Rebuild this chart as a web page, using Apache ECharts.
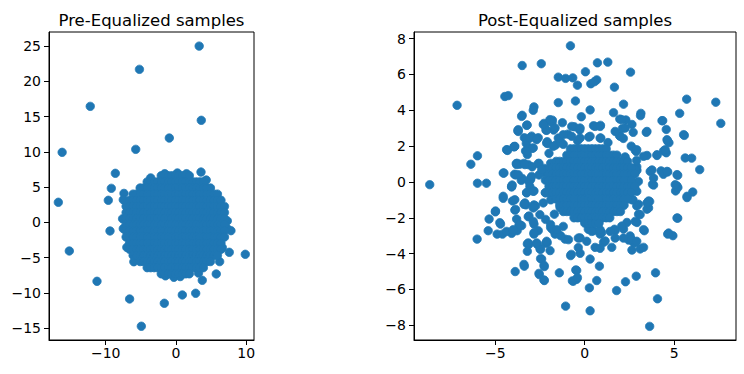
<!DOCTYPE html>
<html>
<head>
<meta charset="utf-8">
<script src="https://cdn.jsdelivr.net/npm/echarts@6/dist/echarts.min.js"></script>
<style>html,body{margin:0;padding:0;background:#fff}#c{width:744px;height:374px}</style>
</head>
<body>
<div id="c"></div>
<script>
// ---- Titles & ticks ----
const leftTitle = 'Pre-Equalized samples';
const rightTitle = 'Post-Equalized samples';
const leftXTicks = [-10, 0, 10];
const leftYTicks = [-15, -10, -5, 0, 5, 10, 15, 20, 25];
const rightXTicks = [-5, 0, 5];
const rightYTicks = [-8, -6, -4, -2, 0, 2, 4, 6, 8];

// ---- Pre-equalized: scattered outliers ----
const leftOuter = [[3.3,25.0],[-5.2,21.7],[-12.2,16.45],[3.6,14.47],[-0.95,11.96],[-16.2,9.93],[-5.73,10.35],
[-8.63,6.95],[-9.2,4.82],[-9.63,3.12],[-16.74,2.84],[-9.39,-1.23],[-15.18,-4.07],[-7.0,-3.55],[-11.24,-8.37],
[-6.6,-10.88],[-1.66,-11.49],[0.9,-10.31],[2.8,-10.07],[-4.93,-14.75],[3.74,-8.23],[5.73,-7.33],[6.21,-5.58],
[7.58,-4.26],[9.86,-4.54],[7.82,-1.19],[3.56,7.13],
[0.2,7.0],[-1.6,6.9],[1.5,6.9],[-0.3,-7.8],[0.6,-7.7],[-1.5,-7.6],[7.3,0.2],[7.2,-0.8],[-7.6,0.5],[-7.5,-0.9],[-7.4,4.1],[-7.5,3.2],[4.3,6.0],[-3.6,6.3],[6.6,-3.6],[-6.0,-5.6],[3.2,-7.2]];

// ---- Pre-equalized: dense central cloud (rows: y, then x positions) ----
const leftCloudRows = [
[6.61, [-2.1,-1.6,-1.1,-0.6,-0.1,0.4,0.9,1.4,1.9]],
[5.74, [-4.1,-3.6,-3.1,-2.6,-2.1,-1.6,-1.1,-0.6,-0.1,0.4,0.9,1.4,1.9,2.4,2.9,3.4,3.9]],
[4.87, [-5.1,-4.6,-4.1,-3.6,-3.1,-2.6,-2.1,-1.6,-1.1,-0.6,-0.1,0.4,0.9,1.4,1.9,2.4,2.9,3.4,3.9,4.4,4.9]],
[4.0, [-6.1,-5.6,-5.1,-4.6,-4.1,-3.6,-3.1,-2.6,-2.1,-1.6,-1.1,-0.6,-0.1,0.4,0.9,1.4,1.9,2.4,2.9,3.4,3.9,4.4,4.9,5.4,5.9]],
[3.13, [-6.6,-6.1,-5.6,-5.1,-4.6,-4.1,-3.6,-3.1,-2.6,-2.1,-1.6,-1.1,-0.6,-0.1,0.4,0.9,1.4,1.9,2.4,2.9,3.4,3.9,4.4,4.9,5.4,5.9,6.4]],
[2.26, [-7.1,-6.6,-6.1,-5.6,-5.1,-4.6,-4.1,-3.6,-3.1,-2.6,-2.1,-1.6,-1.1,-0.6,-0.1,0.4,0.9,1.4,1.9,2.4,2.9,3.4,3.9,4.4,4.9,5.4,5.9,6.4,6.9]],
[1.39, [-7.1,-6.6,-6.1,-5.6,-5.1,-4.6,-4.1,-3.6,-3.1,-2.6,-2.1,-1.6,-1.1,-0.6,-0.1,0.4,0.9,1.4,1.9,2.4,2.9,3.4,3.9,4.4,4.9,5.4,5.9,6.4,6.9]],
[0.52, [-7.1,-6.6,-6.1,-5.6,-5.1,-4.6,-4.1,-3.6,-3.1,-2.6,-2.1,-1.6,-1.1,-0.6,-0.1,0.4,0.9,1.4,1.9,2.4,2.9,3.4,3.9,4.4,4.9,5.4,5.9,6.4,6.9]],
[-0.35, [-7.1,-6.6,-6.1,-5.6,-5.1,-4.6,-4.1,-3.6,-3.1,-2.6,-2.1,-1.6,-1.1,-0.6,-0.1,0.4,0.9,1.4,1.9,2.4,2.9,3.4,3.9,4.4,4.9,5.4,5.9,6.4,6.9]],
[-1.22, [-7.1,-6.6,-6.1,-5.6,-5.1,-4.6,-4.1,-3.6,-3.1,-2.6,-2.1,-1.6,-1.1,-0.6,-0.1,0.4,0.9,1.4,1.9,2.4,2.9,3.4,3.9,4.4,4.9,5.4,5.9,6.4,6.9]],
[-2.09, [-7.1,-6.6,-6.1,-5.6,-5.1,-4.6,-4.1,-3.6,-3.1,-2.6,-2.1,-1.6,-1.1,-0.6,-0.1,0.4,0.9,1.4,1.9,2.4,2.9,3.4,3.9,4.4,4.9,5.4,5.9,6.4,6.9]],
[-2.96, [-6.6,-6.1,-5.6,-5.1,-4.6,-4.1,-3.6,-3.1,-2.6,-2.1,-1.6,-1.1,-0.6,-0.1,0.4,0.9,1.4,1.9,2.4,2.9,3.4,3.9,4.4,4.9,5.4,5.9,6.4]],
[-3.83, [-6.6,-6.1,-5.6,-5.1,-4.6,-4.1,-3.6,-3.1,-2.6,-2.1,-1.6,-1.1,-0.6,-0.1,0.4,0.9,1.4,1.9,2.4,2.9,3.4,3.9,4.4,4.9,5.4,5.9,6.4]],
[-4.7, [-6.1,-5.6,-5.1,-4.6,-4.1,-3.6,-3.1,-2.6,-2.1,-1.6,-1.1,-0.6,-0.1,0.4,0.9,1.4,1.9,2.4,2.9,3.4,3.9,4.4,4.9,5.4,5.9]],
[-5.57, [-5.1,-4.6,-4.1,-3.6,-3.1,-2.6,-2.1,-1.6,-1.1,-0.6,-0.1,0.4,0.9,1.4,1.9,2.4,2.9,3.4,3.9,4.4,4.9]],
[-6.44, [-4.1,-3.6,-3.1,-2.6,-2.1,-1.6,-1.1,-0.6,-0.1,0.4,0.9,1.4,1.9,2.4,2.9,3.4,3.9]],
[-7.31, [-2.1,-1.6,-1.1,-0.6,-0.1,0.4,0.9,1.4,1.9]]
];

// ---- Post-equalized: scattered points ----
const rightOuter = [
[-0.8,7.6],[-3.5,6.5],[-2.43,6.6],[0.71,6.65],[1.29,6.69],[0.04,6.15],[2.56,6.13],
[-1.48,5.85],[-1.07,5.78],[-0.67,5.81],[-0.41,5.4],[0.34,5.48],[0.67,5.7],[0.55,5.6],[1.66,5.29],
[-7.14,4.28],[-4.47,4.77],[-4.28,4.82],[-0.52,4.52],[-1.48,4.43],[-2.84,4.19],[-2.88,4.0],[0.3,4.02],[-0.19,3.64],[2.17,4.34],
[5.7,4.62],[7.33,4.45],[7.61,3.27],[5.31,3.83],[4.36,3.42],[4.56,2.93],[5.57,2.6],[3.14,3.83],[3.12,3.7],[3.44,2.77],[1.61,3.87],
[-3.5,3.72],[-3.25,3.16],[-3.72,2.82],[-2.24,3.2],[-1.83,3.31],[-1.25,3.31],[-2.17,2.9],[-1.74,2.9],[-0.58,3.08],[0.49,3.14],[0.88,3.16],[-0.28,2.9],[-0.95,2.67],[0.22,2.5],[0.9,2.45],
[1.96,3.51],[2.3,3.46],[2.64,3.21],[2.71,2.77],[1.94,2.6],[2.11,2.99],[4.64,2.28],[4.71,2.19],
[-3.38,2.47],[-2.97,2.56],[-2.6,2.47],[-3.27,2.15],[-2.07,2.15],[-4.32,1.76],[-3.94,1.96],[-3.16,1.87],[-3.21,1.53],
[-6.0,1.46],[-6.37,0.99],[-4.52,0.5],[-8.67,-0.15],[-6.0,-0.07],[-5.5,-0.07],
[-3.83,1.03],[-3.63,0.99],[-3.16,0.97],[-2.6,1.03],[-1.85,0.99],[-3.93,0.43],[-3.55,0.09],[-3.03,0.13],[-2.28,0.54],[-1.57,0.69],[-4.09,-0.28],
[2.88,1.7],[3.48,1.48],[4.04,1.48],[4.56,1.63],[4.41,1.73],[5.98,1.33],[6.43,0.69],[4.27,0.62],[4.4,0.43],[4.64,0.56],[5.2,0.37],[5.16,-0.22],[2.92,0.65],[2.45,0.79],[2.26,1.4],
[2.16,2.43],[2.82,1.78],[3.76,0.67],[2.91,0.85],[1.6,1.2],
[-4.56,-0.91],[-4.04,-1.06],[-3.25,-0.59],[-2.84,-0.5],[-2.84,-1.28],[-3.29,-1.28],[-3.91,-1.57],[-5.0,-1.67],[-5.35,-2.07],[-4.71,-2.35],[-5.4,-2.72],[-6.02,-3.19],[-4.9,-2.91],[-4.6,-2.91],[-4.09,-2.87],[-3.78,-2.72],[-3.53,-2.44],[-3.81,-2.07],[-3.16,-1.94],[-2.84,-2.35],[-2.84,-2.91],[-2.6,-2.72],
[-3.21,-3.46],[-3.21,-3.87],[-2.5,-3.74],[-2.19,-3.43],[-1.94,-3.83],[-2.41,-4.3],[-2.26,-4.72],[-2.54,-5.17],[-2.26,-5.5],[-3.38,-4.7],[-3.89,-5.0],[-1.42,-5.07],
[-1.91,-2.54],[-1.66,-2.91],[-1.1,-3.19],[-0.79,-4.11],[-0.26,-3.98],[0.3,-4.3],[-0.45,-4.94],[-0.64,-5.54],[-0.45,-5.43],[0.26,-5.91],[0.67,-5.5],[0.82,-4.7],
[-1.07,-6.93],[0.3,-7.19],[1.78,-6.06],[2.28,-5.57],[2.88,-5.26],[3.96,-5.07],[4.07,-6.52],[3.63,-8.06],
[0.58,-3.65],[1.05,-3.37],[1.51,-3.65],[1.7,-2.72],[2.17,-2.63],[2.45,-3.24],[2.73,-3.37],[2.64,-3.8],[3.1,-3.74],[3.29,-3.65],[3.33,-2.72],[2.92,-2.26],[2.36,-2.26],[3.01,-1.8],[3.48,-1.52],[3.63,-1.09],[3.01,-1.24],
[4.64,-2.91],[4.93,-3.0],[5.2,-2.02],[5.08,-0.5],[5.21,-0.31],[5.72,-0.87],[6.04,-0.56],[3.85,-0.17],[0.49,-2.72],[0.86,-2.91],[-1.38,-1.43],
[3.79,-0.13],[3.57,-1.06],[2.91,-1.34],[2.07,-2.46],[1.66,-2.64],[2.54,-3.01],[2.82,-3.39],[0.95,-2.83],[1.14,-3.29],[0.86,-3.7],[0.2,-2.64],[-0.26,-3.12],[-0.36,-3.66],
[-2.75,-1.34],[-3.4,-1.25],[-3.87,-1.53],[-4.99,-1.62],[-4.75,-2.27],[-3.68,-2.42],[-3.12,-1.9],[-2.84,-2.83],[-2.19,-2.09],[-1.91,-2.37],[-1.82,-2.64],[-1.54,-2.83],[-1.35,-3.0],
[-3.12,-3.48],[-2.66,-3.48],[-2.47,-3.76],[-2.1,-3.39],[-2.47,-4.28],[-2.28,-4.65],[-3.4,-4.6],[-2.56,-5.1],[-2.28,-5.47],[-0.69,-5.52],[-0.41,-5.34],[-0.5,-4.91],[-0.75,-4.04],
[-3.22,3.18],[-3.74,2.86],[-2.28,3.27],[-1.81,3.45],[-2.13,2.88],[-2.1,2.25],[-1.63,2.06],[-1.35,2.25],[-3.31,1.73],[-2.94,1.88],[-4.34,1.79],[-3.96,1.97],
[-3.78,1.04],[-3.4,1.04],[-2.94,0.85],[-2.56,1.04],[-2.28,0.76],[-1.91,1.04],[-1.54,0.76],[-3.87,0.39],[-3.5,0.2],[-3.03,0.2],[-2.56,0.39],[-4.06,-0.17],[-3.12,0.01],
[-2.2,-0.6],[-1.9,-1.0],[-1.9,0.3],[-2.0,1.6],[-1.2,2.1],[-0.4,2.3],[1.3,2.2],[2.6,2.0],[2.9,1.2],[2.8,-0.4],[2.7,-1.0],[-1.7,-1.8],
[-3.53,3.66],[-1.95,3.48],[-2.32,3.2],[-1.66,3.01],[-0.73,3.1],[-0.26,3.01],[0.58,3.1],[0.86,3.1],[2.07,3.48],[2.26,3.01],[1.98,2.55],[1.7,2.82],[3.48,2.82],[4.32,3.42],[5.53,2.64],[4.6,2.36],
[-4.37,1.8],[-3.91,1.99],[-3.72,2.92],[-3.07,2.45],[-2.69,2.36],[-2.88,1.9],[-3.25,1.71],[-2.13,2.17],[-1.76,1.99],[-1.48,2.45],[-1.2,2.64],[-0.73,2.55],[-0.26,2.45],[0.3,2.55],[0.86,2.45],
[-4.56,0.5],[-3.81,0.97],[-3.72,0.41],[-3.35,0.97],[-2.97,0.31],[-3.07,-0.25],[-3.25,-0.61],[-2.88,-0.52],[-2.41,0.69],[-1.95,0.78],[-4.09,-0.25],[-4.56,-0.8],[-3.91,-0.99],[-3.35,-1.17],[-2.88,-1.45],[-2.32,-1.17],[-1.85,-0.61],
[-4.37,-2.76],[-4.0,-2.66],[-3.63,-2.38],[-2.88,-2.2],[-2.51,-1.82],[-3.16,-3.4],[-2.69,-3.4],[-2.13,-3.31],[-1.57,-2.66],[-1.2,-2.48],[-0.91,-3.22],[-0.36,-3.13],[0.11,-3.31],[0.39,-2.76],[0.86,-2.66],[1.42,-2.76],[1.7,-3.13],[2.16,-3.13],[2.63,-3.22],[2.91,-3.31],[3.29,-2.66],[2.82,-2.2],[3.1,-1.82],[3.57,-1.45],[3.48,-1.17],
[2.91,1.8],[3.29,1.43],[4.04,1.52],[4.5,1.8],[3.66,0.59],[3.85,0.22],[4.6,0.59],[5.16,0.41],[5.06,-0.15],[5.72,-0.8],[5.62,1.34],[2.35,0.59],[2.82,0.69],[3.0,0.03],[2.91,-0.52],[2.63,-0.99],[5.16,-2.01],[4.69,-2.85]
];

// ---- Post-equalized: dense centre (rows: y, then x positions) ----
const rightCoreRows = [
[1.85, [-0.8,-0.6,-0.4,-0.2,0,0.2,0.4,0.6,0.8,1.0,1.2]],
[1.5, [-1.0,-0.8,-0.6,-0.4,-0.2,0,0.2,0.4,0.6,0.8,1.0,1.2,1.4,1.6,1.8]],
[1.15, [-1.6,-1.4,-1.2,-1.0,-0.8,-0.6,-0.4,-0.2,0,0.2,0.4,0.6,0.8,1.0,1.2,1.4,1.6,1.8,2.0,2.2,2.4]],
[0.8, [-1.8,-1.6,-1.4,-1.2,-1.0,-0.8,-0.6,-0.4,-0.2,0,0.2,0.4,0.6,0.8,1.0,1.2,1.4,1.6,1.8,2.0,2.2,2.4,2.6]],
[0.45, [-2.0,-1.8,-1.6,-1.4,-1.2,-1.0,-0.8,-0.6,-0.4,-0.2,0,0.2,0.4,0.6,0.8,1.0,1.2,1.4,1.6,1.8,2.0,2.2,2.4,2.6,2.8]],
[0.1, [-2.2,-2.0,-1.8,-1.6,-1.4,-1.2,-1.0,-0.8,-0.6,-0.4,-0.2,0,0.2,0.4,0.6,0.8,1.0,1.2,1.4,1.6,1.8,2.0,2.2,2.4,2.6]],
[-0.25, [-2.0,-1.8,-1.6,-1.4,-1.2,-1.0,-0.8,-0.6,-0.4,-0.2,0,0.2,0.4,0.6,0.8,1.0,1.2,1.4,1.6,1.8,2.0,2.2,2.4,2.6,2.8]],
[-0.6, [-2.2,-2.0,-1.8,-1.6,-1.4,-1.2,-1.0,-0.8,-0.6,-0.4,-0.2,0,0.2,0.4,0.6,0.8,1.0,1.2,1.4,1.6,1.8,2.0,2.2,2.4,2.6]],
[-0.95, [-1.6,-1.4,-1.2,-1.0,-0.8,-0.6,-0.4,-0.2,0,0.2,0.4,0.6,0.8,1.0,1.2,1.4,1.6,1.8,2.0,2.2,2.4]],
[-1.3, [-1.4,-1.2,-1.0,-0.8,-0.6,-0.4,-0.2,0,0.2,0.4,0.6,0.8,1.0,1.2,1.4,1.6,1.8,2.0,2.2]],
[-1.65, [-1.2,-1.0,-0.8,-0.6,-0.4,-0.2,0,0.2,0.4,0.6,0.8,1.0,1.2,1.4,1.6,1.8,2.0]],
[-2.0, [-0.6,-0.4,-0.2,0,0.2,0.4,0.6,0.8,1.0,1.2,1.4]],
[-2.3, [0,0.2,0.4,0.6,0.8]]
];

function rowsToPoints(rows){ const out=[]; rows.forEach(r=>r[1].forEach(x=>out.push([x,r[0]]))); return out; }
const leftData = leftOuter.concat(rowsToPoints(leftCloudRows));
const rightData = rightOuter.concat(rowsToPoints(rightCoreRows));

const FONT = 'DejaVu Sans';
const BLUE = '#1f77b4';
const fmt = v => (v < 0 ? '\u2212' + Math.abs(v) : String(v));
function valAxis(idx, min, max, ticks, isY){
  return {
    type:'value', gridIndex: idx, min:min, max:max,
    splitLine:{show:false},
    axisLine:{show:true, onZero:false, lineStyle:{color:'#000', width:1}},
    axisTick:{show:true, inside:false, length:5, customValues:ticks, lineStyle:{color:'#000', width:1}},
    axisLabel:{show:true, customValues:ticks, formatter:fmt, margin: isY?8:6, color:'#000', fontSize:14, fontFamily:FONT},
    minorTick:{show:false}
  };
}
function scatterSeries(idx, data){
  return {
    type:'scatter', xAxisIndex:idx, yAxisIndex:idx, data:data,
    symbol:'circle', symbolSize:8.4, color:BLUE,
    itemStyle:{color:BLUE, opacity:1, borderColor:BLUE, borderWidth:0.8},
    silent:true, large:false,
    emphasis:{disabled:true, scale:false}
  };
}
const chart = echarts.init(document.getElementById('c'), null, {renderer:'svg'});
chart.setOption({
  animation:false,
  backgroundColor:'#fff',
  title:[
    {text:leftTitle, left:146.5, top:7, textAlign:'center', textStyle:{fontFamily:FONT, fontSize:16.5, fontWeight:'normal', color:'#000'}},
    {text:rightTitle, left:570, top:7, textAlign:'center', textStyle:{fontFamily:FONT, fontSize:16.5, fontWeight:'normal', color:'#000'}}
  ],
  grid:[
    {left:49, top:32, width:205, height:308, show:true, borderColor:'#000', borderWidth:1, backgroundColor:'transparent'},
    {left:414, top:32, width:322, height:308, show:true, borderColor:'#000', borderWidth:1, backgroundColor:'transparent'}
  ],
  xAxis:[ valAxis(0, -18.07, 11.1, leftXTicks, false), valAxis(1, -9.55, 8.46, rightXTicks, false) ],
  yAxis:[ valAxis(0, -16.7, 27.0, leftYTicks, true), valAxis(1, -8.82, 8.37, rightYTicks, true) ],
  series:[ scatterSeries(0, leftData), scatterSeries(1, rightData) ]
});
</script>
</body>
</html>
